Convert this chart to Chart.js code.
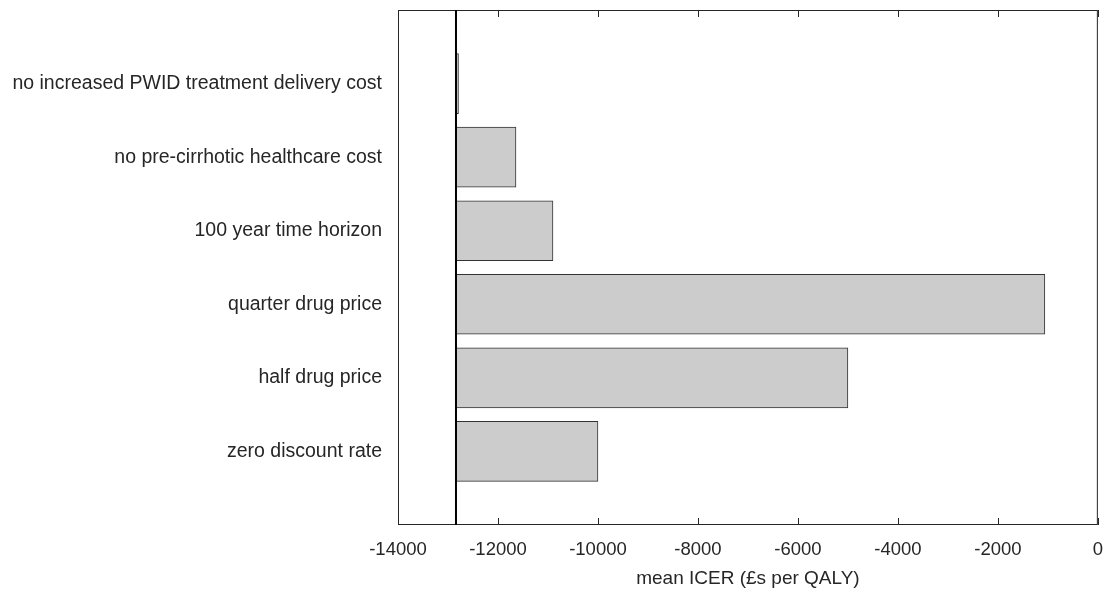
<!DOCTYPE html>
<html><head><script src="https://cdn.jsdelivr.net/npm/chart.js@4"></script>
<style>body{margin:0;background:#fff}#wrap{width:1109px;height:590px}</style></head>
<body><div id="wrap"><canvas id="chart"></canvas></div>
<script>
const categories = ["", "no increased PWID treatment delivery cost", "no pre-cirrhotic healthcare cost",
  "100 year time horizon", "quarter drug price", "half drug price", "zero discount rate", ""];
const baseline = -12840;
const values = [null, -12790, -11640, -10900, -1060, -5000, -10000, null];
const xTicks = [-14000, -12000, -10000, -8000, -6000, -4000, -2000, 0];

const frame = {
  id: "frame",
  afterDraw(c) {
    const ctx = c.ctx, a = c.chartArea, x = c.scales.x;
    ctx.save();
    ctx.strokeStyle = "#262626"; ctx.lineWidth = 1;
    ctx.strokeRect(a.left + 0.5, a.top + 0.5, a.right - a.left - 1, a.bottom - a.top - 1);
    xTicks.forEach(t => {
      const px = Math.round(x.getPixelForValue(t)) + 0.5;
      ctx.beginPath(); ctx.moveTo(px, a.bottom); ctx.lineTo(px, a.bottom - 7);
      ctx.moveTo(px, a.top); ctx.lineTo(px, a.top + 7); ctx.stroke();
    });
    const bx = x.getPixelForValue(baseline);
    ctx.strokeStyle = "#000"; ctx.lineWidth = 2;
    ctx.beginPath(); ctx.moveTo(bx, a.top); ctx.lineTo(bx, a.bottom); ctx.stroke();
    ctx.restore();
  }
};

new Chart(document.getElementById("chart"), {
  type: "bar",
  data: {
    labels: categories,
    datasets: [{
      data: values.map(v => v === null ? null : [baseline, v]),
      backgroundColor: "#cccccc",
      borderColor: "#333333",
      borderWidth: 1,
      borderSkipped: false,
      barThickness: 60
    }]
  },
  options: {
    indexAxis: "y",
    responsive: true, maintainAspectRatio: false, animation: false,
    layout: { padding: { right: 10, top: 10, left: 0, bottom: 0 } },
    plugins: { legend: { display: false }, tooltip: { enabled: false } },
    scales: {
      x: {
        min: -14000, max: 0,
        afterBuildTicks: s => { s.ticks = xTicks.map(v => ({ value: v })); },
        grid: { display: false }, border: { display: false },
        ticks: { color: "#262626", font: { family: "Liberation Sans", size: 18.5 }, padding: 6,
                 callback: v => String(v) },
        title: { display: true, text: "mean ICER (£s per QALY)", color: "#262626",
                 font: { family: "Liberation Sans", size: 19 }, padding: { top: 0, bottom: 0 } }
      },
      y: {
        offset: false,
        afterFit: s => { s.width = 398; s.paddingTop = 0; s.paddingBottom = 0; },
        grid: { display: false }, border: { display: false },
        ticks: { color: "#262626", font: { family: "Liberation Sans", size: 19.5 }, padding: 8 }
      }
    }
  },
  plugins: [frame]
});
</script></body></html>
